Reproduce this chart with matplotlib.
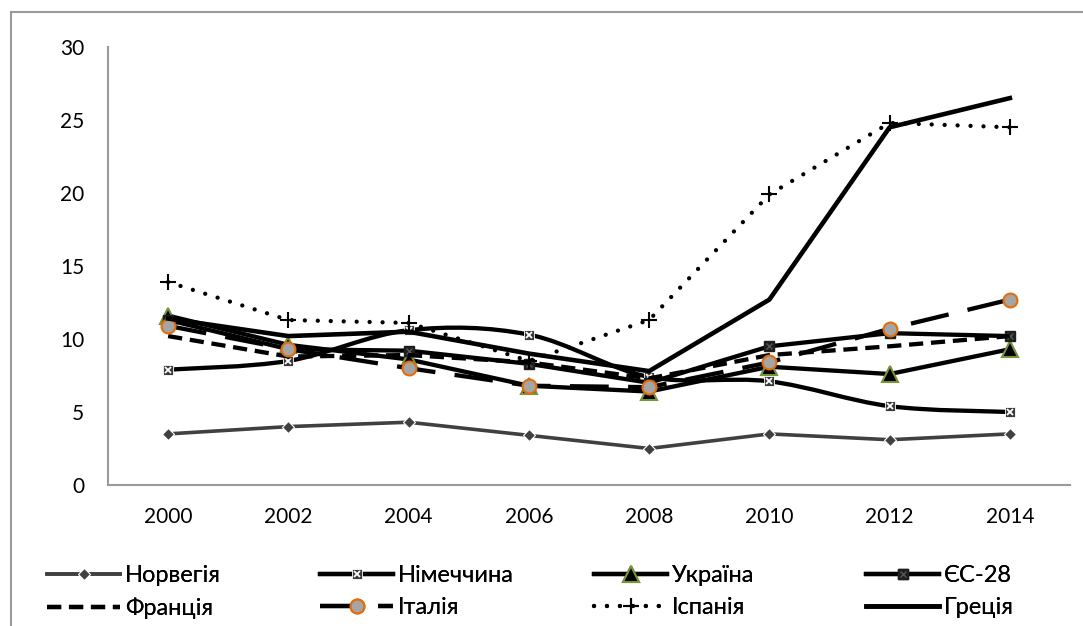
import matplotlib
matplotlib.use("Agg")
import matplotlib.pyplot as plt
from matplotlib.lines import Line2D
from matplotlib.path import Path
from matplotlib.patches import PathPatch, Rectangle
from matplotlib.legend_handler import HandlerTuple
import numpy as np

plt.rcParams['font.family'] = ['Lato', 'Noto Sans', 'DejaVu Sans']

years = ['2000', '2002', '2004', '2006', '2008', '2010', '2012', '2014']
norway = [3.5, 4.0, 4.3, 3.4, 2.5, 3.5, 3.1, 3.5]
germany = [7.9, 8.5, 10.6, 10.3, 7.4, 7.1, 5.4, 5.0]
ukraine = [11.6, 9.6, 8.6, 6.8, 6.4, 8.1, 7.6, 9.3]
eu28 = [11.3, 9.3, 9.2, 8.3, 7.0, 9.5, 10.4, 10.2]
france = [10.2, 8.8, 8.9, 8.4, 7.3, 8.9, 9.5, 10.2]
italy = [10.9, 9.3, 8.0, 6.8, 6.7, 8.4, 10.7, 12.7]
spain = [13.9, 11.3, 11.1, 8.5, 11.3, 19.9, 24.8, 24.5]
greece = [11.4, 10.2, 10.5, 9.0, 7.8, 12.7, 24.5, 26.5]

labels = ['Норвегія', 'Німеччина', 'Україна', 'ЄС-28',
          'Франція', 'Італія', 'Іспанія', 'Греція']

FS = 15
LFS = 17
x = np.arange(len(years))

fig = plt.figure(figsize=(10.83, 6.26), dpi=100)
ax = fig.add_axes([108 / 1083, 1 - 485 / 626, 962 / 1083, 438 / 626])

# outer chart frame
fig.patches.append(Rectangle((11 / 1083, -0.05), 1.1, 1 - 12 / 626 + 0.05,
                             transform=fig.transFigure, fill=False,
                             edgecolor='#9a9a9a', linewidth=1.5))


def smooth_path(xs, ys):
    """Catmull-Rom style cubic Bezier path through the points."""
    pts = np.column_stack([xs, ys]).astype(float)
    n = len(pts)
    verts = [pts[0]]
    codes = [Path.MOVETO]
    for i in range(n - 1):
        p0 = pts[i - 1] if i > 0 else pts[i]
        p1 = pts[i]
        p2 = pts[i + 1]
        p3 = pts[i + 2] if i + 2 < n else pts[i + 1]
        c1 = p1 + (p2 - p0) / 6.0
        c2 = p2 - (p3 - p1) / 6.0
        verts += [c1, c2, p2]
        codes += [Path.CURVE4] * 3
    return Path(verts, codes)


LW = 3.1
DOTS = (0.01, 3.0)

# Норвегія
ax.plot(x, norway, color='#404040', lw=2.6, marker='D', ms=6.5,
        mfc='#404040', mec='white', mew=0.8, zorder=2)

# Німеччина (smoothed line)
ax.add_patch(PathPatch(smooth_path(x, germany), fill=False, edgecolor='black',
                       lw=LW, zorder=3))
ax.plot(x, germany, ls='none', marker='s', ms=7, mfc='#3a3a3a', mec='white',
        mew=0.6, zorder=3.1)
ax.plot(x, germany, ls='none', marker='x', ms=5, mec='white', mew=1.3,
        zorder=3.2)

# Україна
ax.plot(x, ukraine, color='black', lw=LW, marker='^', ms=12, mfc='black',
        mec='#77933C', mew=1.5, zorder=4)

# ЄС-28
ax.plot(x, eu28, color='black', lw=LW, marker='s', ms=7, mfc='#1e1e1e',
        mec='#1e1e1e', zorder=5)
ax.plot(x, eu28, ls='none', marker='x', ms=5, mec='#555555', mew=1.0,
        zorder=5.1)

# Франція
ax.plot(x, france, color='black', lw=LW, dashes=(3.3, 1.8), zorder=6)

# Італія
ax.plot(x, italy, color='black', lw=LW, dashes=(9, 4.5), marker='o', ms=10,
        mfc='#a5a5a5', mec='#E46C0A', mew=1.5, zorder=7)

# Іспанія
ax.plot(x, spain, color='black', lw=LW, dashes=DOTS,
        dash_capstyle='round', marker='+', ms=12, mec='black', mew=1.5,
        zorder=8)

# Греція
ax.plot(x, greece, color='black', lw=3.3, zorder=9)

ax.set_xlim(-0.5, len(years) - 0.5)
ax.set_ylim(0, 30)
ax.set_yticks(range(0, 31, 5))
ax.set_xticks(x)
ax.set_xticklabels(years)
ax.tick_params(axis='both', length=0, labelsize=FS, colors='black')
ax.tick_params(axis='y', pad=17)
ax.tick_params(axis='x', pad=16)
for s in ['top', 'right']:
    ax.spines[s].set_visible(False)
for s in ['left', 'bottom']:
    ax.spines[s].set_color('#9a9a9a')
    ax.spines[s].set_linewidth(1.5)

# legend handles
h_nor = Line2D([], [], color='#404040', lw=2.6, marker='D', ms=6.5,
               mfc='#404040', mec='white', mew=0.8)
h_ger = (Line2D([], [], color='black', lw=LW, marker='s', ms=7,
                mfc='#3a3a3a', mec='white', mew=0.6),
         Line2D([], [], ls='none', marker='x', ms=5, mec='white', mew=1.3))
h_ukr = Line2D([], [], color='black', lw=LW, marker='^', ms=12, mfc='black',
               mec='#77933C', mew=1.5)
h_eu = (Line2D([], [], color='black', lw=LW, marker='s', ms=7, mfc='#1e1e1e',
               mec='#1e1e1e'),
        Line2D([], [], ls='none', marker='x', ms=5, mec='#555555', mew=1.0))
h_fra = Line2D([], [], color='black', lw=LW, dashes=(3.3, 1.8))
h_ita = Line2D([], [], color='black', lw=LW, dashes=(9, 4.5), marker='o',
               ms=10, mfc='#a5a5a5', mec='#E46C0A', mew=1.5)
h_spa = Line2D([], [], color='black', lw=LW, dashes=DOTS,
               dash_capstyle='round', marker='+', ms=12, mec='black', mew=1.5)
h_gre = Line2D([], [], color='black', lw=3.3)

columns = [([h_nor, h_fra], [labels[0], labels[4]], 47),
           ([h_ger, h_ita], [labels[1], labels[5]], 320),
           ([h_ukr, h_spa], [labels[2], labels[6]], 594),
           ([h_eu, h_gre], [labels[3], labels[7]], 866)]
for hs, ls_, px in columns:
    leg = fig.legend(hs, ls_, loc='upper left',
                     bbox_to_anchor=(px / 1083, 1 - 565 / 626),
                     frameon=False, fontsize=LFS, handlelength=3.1,
                     handletextpad=0.2, labelspacing=0.48, borderpad=0,
                     borderaxespad=0, numpoints=1,
                     handler_map={tuple: HandlerTuple(ndivide=1, pad=0)})
    fig.add_artist(leg)

fig.savefig('out.png', dpi=100, facecolor='white')
